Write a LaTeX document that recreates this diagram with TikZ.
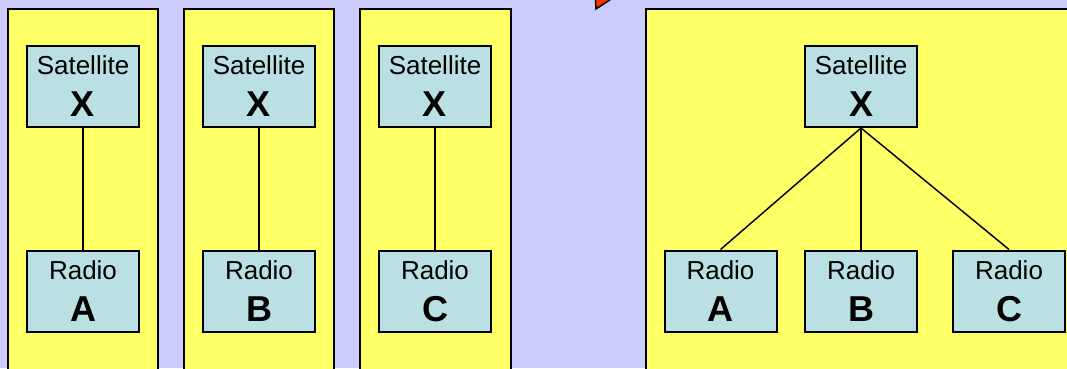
\documentclass[tikz,border=0pt]{standalone}
\usepackage{fontspec}
\setmainfont{Liberation Sans}
\usepackage{tikz}
\usetikzlibrary{positioning}
\usetikzlibrary{calc}
\definecolor{slidebg}{HTML}{CCCCFF}
\definecolor{panelyellow}{HTML}{FFFF66}
\definecolor{unitblue}{HTML}{BBE0E3}
\definecolor{arrowred}{HTML}{FF3300}
\newcommand{\unit}[2]{#1\\{\fontsize{27}{31.5}\selectfont\bfseries #2}}

\begin{document}
\begin{tikzpicture}[x=0.75pt,y=-0.75pt]
    \tikzstyle{every node}=[font=\fontsize{19.5}{31.5}\selectfont]
    \tikzstyle{unitbox}=[draw, line width=1.5pt, fill=unitblue, align=center, minimum width=84pt, minimum height=60.75pt, inner sep=0pt]
    \tikzstyle{panel}=[draw, line width=1.5pt, fill=panelyellow]
    \tikzstyle{link}=[line width=1.1pt]
    \useasboundingbox (0,0) rectangle (1067,368);
    \fill[slidebg] (0,0) rectangle (1067,368);
    \begin{scope}
    \clip (0,0) rectangle (1067,368);
    % red pointer coming in from above
    \filldraw[fill=arrowred, line width=1.1pt] (595,-8) -- (596,9) -- (622,-8) -- cycle;
    % yellow panels
    \draw[panel] (8,9) rectangle (158,390);
    \draw[panel] (184,9) rectangle (334,390);
    \draw[panel] (360,9) rectangle (511,390);
    \draw[panel] (646,9) rectangle (1090,390);
    \end{scope}
    % one satellite per radio
    \node[unitbox] (satA) at (83,86.5) {\unit{Satellite}{X}}; %
    \node[unitbox] (radioA) at ($(satA)+(0,204.5)$) {\unit{Radio}{A}}; %
    \node[unitbox] (satB) at (259,86.5) {\unit{Satellite}{X}}; %
    \node[unitbox] (radioB) at ($(satB)+(0,204.5)$) {\unit{Radio}{B}}; %
    \node[unitbox] (satC) at (435,86.5) {\unit{Satellite}{X}}; %
    \node[unitbox] (radioC) at ($(satC)+(0,204.5)$) {\unit{Radio}{C}}; %
    \draw[link] (satA) -- (radioA); %
    \draw[link] (satB) -- (radioB); %
    \draw[link] (satC) -- (radioC); %
    % one satellite shared by all radios
    \node[unitbox] (sat) at (861,86.5) {\unit{Satellite}{X}}; %
    \node[unitbox] (rA) at ($(sat)+(-140.5,204.5)$) {\unit{Radio}{A}}; %
    \node[unitbox] (rB) at ($(sat)+(0,204.5)$) {\unit{Radio}{B}}; %
    \node[unitbox] (rC) at ($(sat)+(148,204.5)$) {\unit{Radio}{C}}; %
    \draw[link] (sat.south) -- (rA.north); %
    \draw[link] (sat.south) -- (rB.north); %
    \draw[link] (sat.south) -- (rC.north); %
\end{tikzpicture}
\end{document}
